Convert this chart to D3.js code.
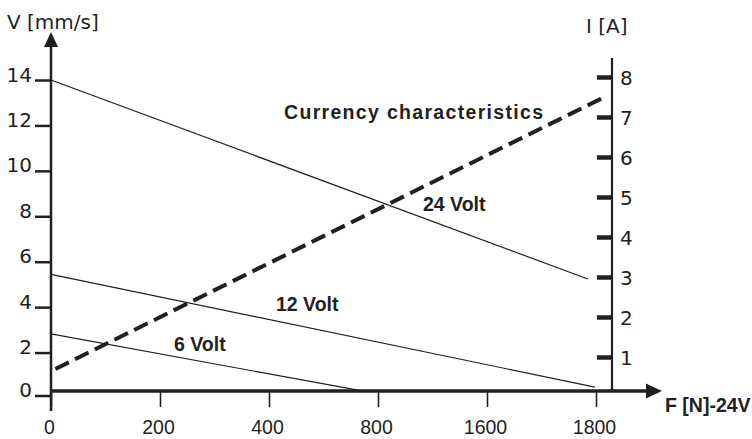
<!DOCTYPE html>
<html>
<head>
<meta charset="utf-8">
<script src="https://cdn.jsdelivr.net/npm/d3@7"></script>
<style>
  html, body { margin: 0; padding: 0; background: #fff; }
  svg { display: block; }
  .tick-num { font-family: "DejaVu Sans", sans-serif; font-size: 20px; fill: #231f20; }
  .force-num { font-family: "Liberation Sans", Arial, sans-serif; font-size: 19.5px; fill: #231f20; }
  .bold-lbl { font-family: "Liberation Sans", Arial, sans-serif; font-weight: bold; font-size: 19.5px; fill: #231f20; }
</style>
</head>
<body>
<svg id="chart" width="752" height="439"></svg>
<script>
// Force positions along the F axis (evenly spaced tick slots) and their printed labels
const xTickValues = [0, 200, 400, 600, 800, 1000];
const xTickLabels = ["0", "200", "400", "800", "1600", "1800"];

// Speed axis (left) and current axis (right)
const vTicks = [0, 2, 4, 6, 8, 10, 12, 14];
const iTicks = [1, 2, 3, 4, 5, 6, 7, 8];

// Speed characteristics per supply voltage: [F position, V mm/s]
const speed24V = [[0, 14.0], [985, 5.24]];
const speed12V = [[0, 5.44], [998, 0.48]];
const speed6V  = [[0, 2.82], [571, 0.31]];

// Current characteristic: [F position, I A]
const currentChar = [[8, 0.7], [1020, 7.53]];

const ink = "#231f20";
const svg = d3.select("#chart");

const x  = d3.scaleLinear().domain([0, 1000]).range([51, 596]);
const yV = d3.scaleLinear().domain([0, 14]).range([398, 80]);
const yI = d3.scaleLinear().domain([0, 8]).range([397, 77]);

const leftX = 51, rightX = 612, baseY = 391;

// ---- left (V) axis ----
svg.append("line")
  .attr("x1", leftX).attr("x2", leftX).attr("y1", 411).attr("y2", 44)
  .attr("stroke", ink).attr("stroke-width", 2.5);
svg.append("path")
  .attr("d", `M${leftX},32 L${leftX - 7},47 L${leftX + 7},47 Z`)
  .attr("fill", ink);

const gV = svg.append("g").attr("transform", `translate(${leftX},0)`)
  .call(d3.axisLeft(yV).tickValues(vTicks).tickSize(16).tickPadding(3).tickFormat(d3.format("d")));
gV.select(".domain").remove();
gV.selectAll(".tick line").attr("stroke", ink).attr("stroke-width", 2.5);
gV.selectAll(".tick text")
  .attr("class", "tick-num").attr("dy", "0.05em")
  .attr("font-family", null).attr("font-size", null).attr("fill", null);
// tick "0" sits slightly below the force axis
gV.selectAll(".tick").filter(d => d === 0)
  .attr("transform", `translate(0,${baseY + 5})`);

svg.append("text").attr("class", "tick-num")
  .attr("x", 7).attr("y", 29).text("V [mm/s]");

// ---- right (I) axis ----
svg.append("line")
  .attr("x1", rightX).attr("x2", rightX).attr("y1", 58).attr("y2", baseY)
  .attr("stroke", ink).attr("stroke-width", 2.2);

const gI = svg.append("g").attr("transform", `translate(${rightX},0)`)
  .call(d3.axisLeft(yI).tickValues(iTicks).tickSize(15).tickFormat(d3.format("d")));
gI.select(".domain").remove();
gI.selectAll(".tick line").attr("stroke", ink).attr("stroke-width", 4.5);
gI.selectAll(".tick text")
  .attr("class", "tick-num")
  .attr("x", 8).attr("dy", "0.36em").attr("text-anchor", "start")
  .attr("font-family", null).attr("font-size", null).attr("fill", null);

svg.append("text").attr("class", "tick-num")
  .attr("x", 586).attr("y", 33).text("I [A]");

// ---- force axis ----
const gF = svg.append("g").attr("transform", `translate(0,${baseY})`)
  .call(d3.axisBottom(x).tickValues(xTickValues).tickSize(16)
    .tickFormat((d, i) => xTickLabels[i]));
gF.select(".domain").remove();
gF.selectAll(".tick line").attr("stroke", ink).attr("stroke-width", 1.6);
gF.selectAll(".tick text")
  .attr("class", "force-num")
  .attr("y", 43).attr("dy", 0).attr("x", -2)
  .attr("font-family", null).attr("font-size", null).attr("fill", null);

svg.append("line")
  .attr("x1", leftX).attr("x2", 650).attr("y1", baseY).attr("y2", baseY)
  .attr("stroke", ink).attr("stroke-width", 3.5);
svg.append("path")
  .attr("d", `M662,${baseY} L646,${baseY - 7.5} L646,${baseY + 7.5} Z`)
  .attr("fill", ink);

svg.append("text").attr("class", "bold-lbl")
  .attr("x", 665).attr("y", 412).attr("font-size", 19).text("F [N]-24V");

// ---- speed lines ----
const vLine = d3.line().x(d => x(d[0])).y(d => yV(d[1]));
[speed24V, speed12V, speed6V].forEach(s => {
  svg.append("path").datum(s)
    .attr("d", vLine)
    .attr("fill", "none").attr("stroke", ink).attr("stroke-width", 1.2);
});

// ---- current line ----
const iLine = d3.line().x(d => x(d[0])).y(d => yI(d[1]));
svg.append("path").datum(currentChar)
  .attr("d", iLine)
  .attr("fill", "none").attr("stroke", ink)
  .attr("stroke-width", 4).attr("stroke-dasharray", "15,7");

// ---- annotations ----
svg.append("text").attr("class", "bold-lbl")
  .attr("x", 284).attr("y", 119).attr("font-size", 18.5)
  .attr("textLength", 259).attr("lengthAdjust", "spacing")
  .text("Currency characteristics");
svg.append("text").attr("class", "bold-lbl").attr("x", 423).attr("y", 211).text("24 Volt");
svg.append("text").attr("class", "bold-lbl").attr("x", 276).attr("y", 311).text("12 Volt");
svg.append("text").attr("class", "bold-lbl").attr("x", 174).attr("y", 351).text("6 Volt");
</script>
</body>
</html>
